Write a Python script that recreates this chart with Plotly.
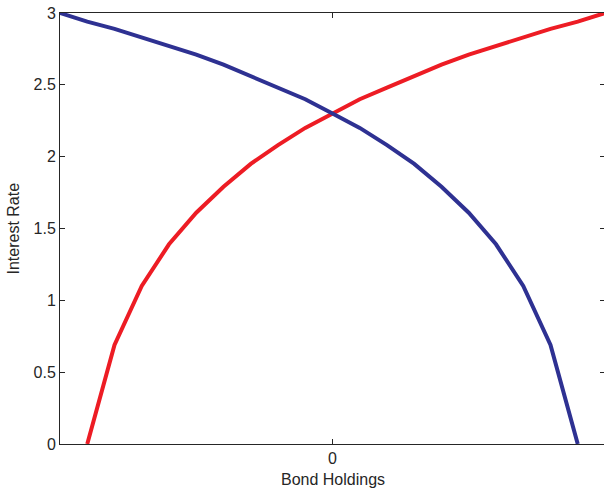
import plotly.graph_objects as go

# Data
red_x = [-0.9, -0.8, -0.7, -0.6, -0.5, -0.4, -0.3, -0.2, -0.1, 0.0,
         0.1, 0.2, 0.3, 0.4, 0.5, 0.6, 0.7, 0.8, 0.9, 1.0]
red_y = [0.00, 0.69, 1.10, 1.39, 1.61, 1.79, 1.95, 2.08, 2.20, 2.30,
         2.40, 2.48, 2.56, 2.64, 2.71, 2.77, 2.83, 2.89, 2.94, 3.00]
blue_x = [-1.0, -0.9, -0.8, -0.7, -0.6, -0.5, -0.4, -0.3, -0.2, -0.1,
          0.0, 0.1, 0.2, 0.3, 0.4, 0.5, 0.6, 0.7, 0.8, 0.9]
blue_y = [3.00, 2.94, 2.89, 2.83, 2.77, 2.71, 2.64, 2.56, 2.48, 2.40,
          2.30, 2.20, 2.08, 1.95, 1.79, 1.61, 1.39, 1.10, 0.69, 0.00]
y_ticks = [0, 0.5, 1, 1.5, 2, 2.5, 3]
y_tick_labels = ["0", "0.5", "1", "1.5", "2", "2.5", "3"]
x_ticks = [0]
x_tick_labels = ["0"]

FONT = "Liberation Sans, Arial, sans-serif"
TXT = "#262626"

fig = go.Figure()
fig.add_trace(go.Scatter(x=red_x, y=red_y, mode="lines",
                         line=dict(color="#ED1C24", width=4), showlegend=False,
                         cliponaxis=False))
fig.add_trace(go.Scatter(x=blue_x, y=blue_y, mode="lines",
                         line=dict(color="#2E3192", width=4), showlegend=False,
                         cliponaxis=False))

axis_common = dict(showline=True, linecolor=TXT, linewidth=1, mirror="ticks",
                   ticks="inside", ticklen=5, tickcolor=TXT, showgrid=False,
                   zeroline=False, automargin=False, ticklabeloverflow="allow",
                   tickfont=dict(family=FONT, size=16, color=TXT))

fig.update_xaxes(range=[-1, 1], tickvals=x_ticks, ticktext=x_tick_labels, **axis_common)
fig.update_yaxes(range=[0, 3], tickvals=y_ticks, ticktext=y_tick_labels, **axis_common)

fig.add_annotation(text="Bond Holdings", xref="paper", yref="paper", x=0.5, y=0,
                   xanchor="center", yanchor="middle", yshift=-35, showarrow=False,
                   font=dict(family=FONT, size=16, color=TXT))
fig.add_annotation(text="Interest Rate", xref="paper", yref="paper", x=0, y=0.5,
                   xanchor="center", yanchor="middle", xshift=-47, textangle=-90,
                   showarrow=False, font=dict(family=FONT, size=16, color=TXT))

# one pixel wider than the window so the right frame line falls just outside, as in the reference
fig.update_layout(width=605, height=488, margin=dict(l=60, r=0, t=13, b=44),
                  plot_bgcolor="white", paper_bgcolor="white")
# remove the default 8px page margin so the figure sits at the window's corner
fig.write_html("out.html", config={"displayModeBar": False},
               post_script="document.body.style.margin='0px';document.body.style.overflow='hidden';")
